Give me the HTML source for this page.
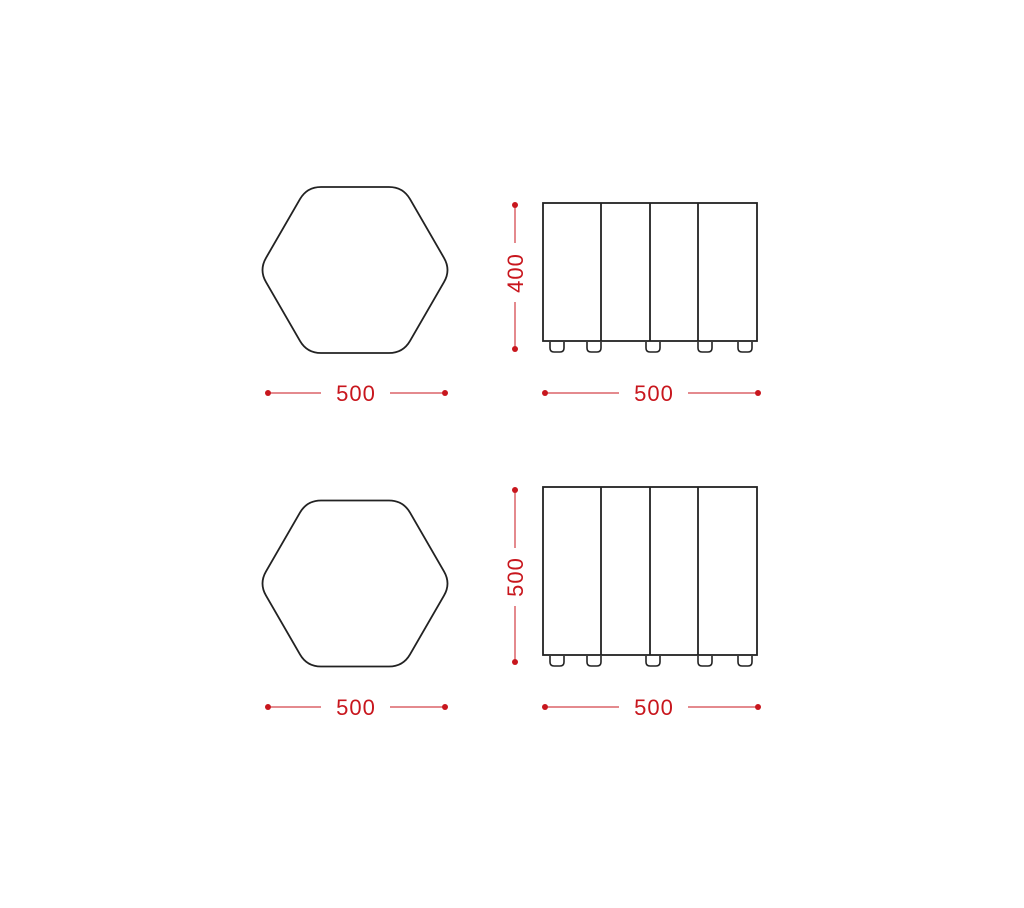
<!DOCTYPE html>
<html><head><style>body{margin:0;background:#fff}svg{display:block}</style></head><body>
<svg width="1024" height="908" viewBox="0 0 1024 908" xmlns="http://www.w3.org/2000/svg">
<defs>
<g id="hex"><path d="M321,187 L389,187 Q403,187 410,199.1 L444,257.9 Q451,270 444,282.1 L410,340.9 Q403,353 389,353 L321,353 Q307,353 300,340.9 L266,282.1 Q259,270 266,257.9 L300,199.1 Q307,187 321,187 Z" fill="none" stroke="#222" stroke-width="1.8"/></g>
<g id="feet" fill="none" stroke="#222" stroke-width="1.6">
<path d="M550,0 v6 q0,4 4,4 h6 q4,0 4,-4 v-6"/>
<path d="M587,0 v6 q0,4 4,4 h6 q4,0 4,-4 v-6"/>
<path d="M646,0 v6 q0,4 4,4 h6 q4,0 4,-4 v-6"/>
<path d="M698,0 v6 q0,4 4,4 h6 q4,0 4,-4 v-6"/>
<path d="M738,0 v6 q0,4 4,4 h6 q4,0 4,-4 v-6"/>
</g>
</defs>
<g font-family="Liberation Sans, sans-serif" font-size="22" letter-spacing="1" fill="#c8161d" text-anchor="middle">
<use href="#hex"/>
<use href="#hex" transform="translate(0,313.5)"/>
<g fill="none" stroke="#222" stroke-width="1.8">
<rect x="543" y="203" width="214" height="138"/>
<line x1="601" y1="203" x2="601" y2="341"/><line x1="650" y1="203" x2="650" y2="341"/><line x1="698" y1="203" x2="698" y2="341"/>
<rect x="543" y="487" width="214" height="168"/>
<line x1="601" y1="487" x2="601" y2="655"/><line x1="650" y1="487" x2="650" y2="655"/><line x1="698" y1="487" x2="698" y2="655"/>
</g>
<use href="#feet" transform="translate(0,342)"/>
<use href="#feet" transform="translate(0,656)"/>
<g stroke="#c8161d" stroke-width="1">
<line x1="268" y1="393" x2="321" y2="393"/><line x1="390" y1="393" x2="445" y2="393"/>
<line x1="545" y1="393" x2="619" y2="393"/><line x1="688" y1="393" x2="758" y2="393"/>
<line x1="268" y1="707" x2="321" y2="707"/><line x1="390" y1="707" x2="445" y2="707"/>
<line x1="545" y1="707" x2="619" y2="707"/><line x1="688" y1="707" x2="758" y2="707"/>
<line x1="515" y1="205" x2="515" y2="243"/><line x1="515" y1="302" x2="515" y2="349"/>
<line x1="515" y1="490" x2="515" y2="548"/><line x1="515" y1="606" x2="515" y2="662"/>
</g>
<g>
<circle cx="268" cy="393" r="3"/><circle cx="445" cy="393" r="3"/><circle cx="545" cy="393" r="3"/><circle cx="758" cy="393" r="3"/>
<circle cx="268" cy="707" r="3"/><circle cx="445" cy="707" r="3"/><circle cx="545" cy="707" r="3"/><circle cx="758" cy="707" r="3"/>
<circle cx="515" cy="205" r="3"/><circle cx="515" cy="349" r="3"/><circle cx="515" cy="490" r="3"/><circle cx="515" cy="662" r="3"/>
</g>
<text x="356" y="401">500</text><text x="654" y="401">500</text>
<text x="356" y="715">500</text><text x="654" y="715">500</text>
<text transform="translate(523,273) rotate(-90)">400</text>
<text transform="translate(523,577) rotate(-90)">500</text>
</g>
</svg>
</body></html>
